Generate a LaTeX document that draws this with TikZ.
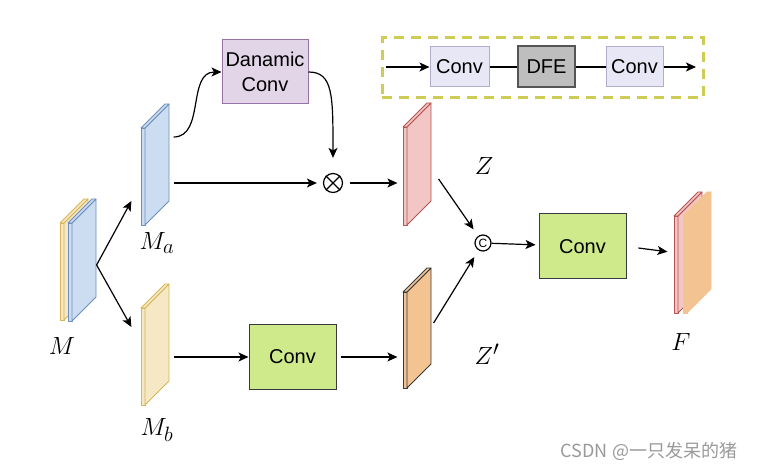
\documentclass[tikz,border=0pt]{standalone}
\usepackage{fontspec}
\setsansfont{Liberation Sans}
\newfontfamily\cjk{Noto Sans CJK SC}
\usepackage{tikz}
\usetikzlibrary{arrows.meta}
\usetikzlibrary{calc}

\definecolor{blueF}{RGB}{205,221,241}
\definecolor{blueD}{RGB}{108,142,191}
\definecolor{yellowF}{RGB}{246,231,197}
\definecolor{yellowD}{RGB}{214,182,86}
\definecolor{redF}{RGB}{241,198,196}
\definecolor{redD}{RGB}{184,84,80}
\definecolor{orangeF}{RGB}{244,195,146}
\definecolor{darkD}{RGB}{54,57,61}
\definecolor{greenF}{RGB}{206,234,139}
\definecolor{purpleF}{RGB}{225,213,231}
\definecolor{purpleD}{RGB}{150,115,166}
\definecolor{lavF}{RGB}{232,231,246}
\definecolor{lavD}{RGB}{178,172,208}
\definecolor{dfeF}{RGB}{190,190,190}
\definecolor{dfeD}{RGB}{85,85,85}
\definecolor{dashC}{RGB}{205,205,85}

% thin plate: name, x, bottom y, height, fill, border
\newcommand{\slab}[6]{%
  \filldraw[fill=#5,draw=#6,line width=0.8pt,line join=round] (#2,#3) rectangle (#2+4,#3-#4);
  \filldraw[fill=#5,draw=#6,line width=0.8pt,line join=round] (#2+4,#3) -- (#2+28,#3-24) -- (#2+28,#3-#4-24) -- (#2+4,#3-#4) -- cycle;
  \filldraw[fill=#5,draw=#6,line width=0.8pt,line join=round] (#2,#3-#4) -- (#2+24,#3-#4-24) -- (#2+28,#3-#4-24) -- (#2+4,#3-#4) -- cycle;
  \node[inner sep=0,minimum width=28,minimum height=#4+24] (#1) at (#2+14,#3-#4/2-12) {};
}

\begin{document}
\begin{tikzpicture}[x=1pt,y=-1pt,
    line width=1.2pt,
    arr/.style={-{Stealth[length=10pt,width=9pt,inset=2.5pt]}},
    box/.style={draw=darkD,line width=1pt,inner sep=0,align=center,font=\sffamily\fontsize{20}{25}\selectfont},
    lbl/.style={inner sep=0,font=\fontsize{30}{32}\selectfont}]
  \useasboundingbox (0,0) rectangle (758,470);

  % plates
  \slab{My}{60}{320}{97}{yellowF}{yellowD}
  \slab{M}{68}{321}{98}{blueF}{blueD}
  \slab{Ma}{141}{225}{97}{blueF}{blueD}
  \slab{Mb}{141}{405}{97}{yellowF}{yellowD}
  \slab{Z}{403}{225}{98}{redF}{redD}
  \slab{Zp}{403}{388}{96}{orangeF}{darkD}
  \slab{Fr}{674}{313}{97}{redF}{redD}
  \slab{Fo}{683}{313}{97}{orangeF}{orangeF}

  % labels
  \node[lbl] (lM) at (62,346) {$M$};
  \node[lbl] (lMa) at (157,243) {$M_a$};
  \node[lbl] (lMb) at (157,430) {$M_b$};
  \node[lbl] (lZ) at (484,166) {$Z$};
  \node[lbl] (lZp) at (487,354) {$Z'$};
  \node[lbl] (lF) at (681,342) {$F$};

  % blocks
  \node[box,draw=purpleD,fill=purpleF,minimum width=86,minimum height=64] (dyn) at (265,72) {Danamic\\Conv};
  \node[box,fill=greenF,minimum width=87,minimum height=64] (c1) at (292.5,357) {Conv};
  \node[box,fill=greenF,minimum width=87,minimum height=65] (c2) at (582.5,246.5) {Conv};
  \node[circle,draw,inner sep=0,minimum size=19] (mul) at (333,183) {};
  \draw (mul.north west) -- (mul.south east);
  \draw (mul.north east) -- (mul.south west);
  \node[circle,draw,inner sep=0,minimum size=16,font=\sffamily\fontsize{12}{12}\selectfont] (cat) at (483,243) {C};

  % DFE legend
  \node[draw=dashC,line width=3pt,dash pattern=on 10pt off 7pt,minimum width=321,minimum height=60] (frame) at (542.5,68) {};
  \node[box,draw=lavD,fill=lavF,minimum width=59,minimum height=40] (s1) at (459.5,67) {Conv};
  \node[box,draw=dfeD,line width=2pt,fill=dfeF,minimum width=57,minimum height=41] (dfe) at (546.5,67) {DFE};
  \node[box,draw=lavD,fill=lavF,minimum width=57,minimum height=40] (s2) at (634.5,67) {Conv};
  \coordinate (in) at (386,67);
  \coordinate (out) at (696,67);
  \draw[arr] (in) -- (s1);
  \draw (s1) -- (dfe);
  \draw (dfe) -- (s2);
  \draw[arr] (s2) -- (out);

  % connectors
  \draw[arr] ([shift={(0,5)}]M.east) -- ([shift={(-9,36.5)}]Ma.west);
  \draw[arr] ([shift={(0,5)}]M.east) -- ([shift={(-9,-17.5)}]Mb.west);
  \draw[arr] ([shift={(4,-27.5)}]Ma.east) .. controls (205,137) and (187,72) .. (dyn.west);
  \draw[arr,shorten >=15pt] (dyn.east) .. controls (333,72) and (333,95) .. (mul.north);
  \draw[arr,shorten <=4pt,shorten >=6pt] (Ma.east |- mul) -- (mul);
  \draw[arr,shorten <=7pt,shorten >=5pt] (mul) -- (Z.west |- mul);
  \draw[arr,shorten >=8pt] ([shift={(7,15)}]Z.east) -- (cat);
  \draw[arr,shorten >=8pt] ([shift={(2,-5)}]Zp.east) -- (cat);
  \draw[arr,shorten >=3pt] (cat) -- (c2);
  \draw[arr,shorten <=12pt,shorten >=6pt] (c2.east) -- (Fr.west);
  \draw[arr,shorten <=4pt] (Mb.east |- c1) -- (c1);
  \draw[arr,shorten <=4pt,shorten >=5pt] (c1) -- (Zp.west |- c1);

  % watermark
  \node[text=gray!80,font=\cjk\fontsize{18}{18}\selectfont,anchor=east] (wm) at (741,451) {CSDN @一只发呆的猪};
\end{tikzpicture}
\end{document}
